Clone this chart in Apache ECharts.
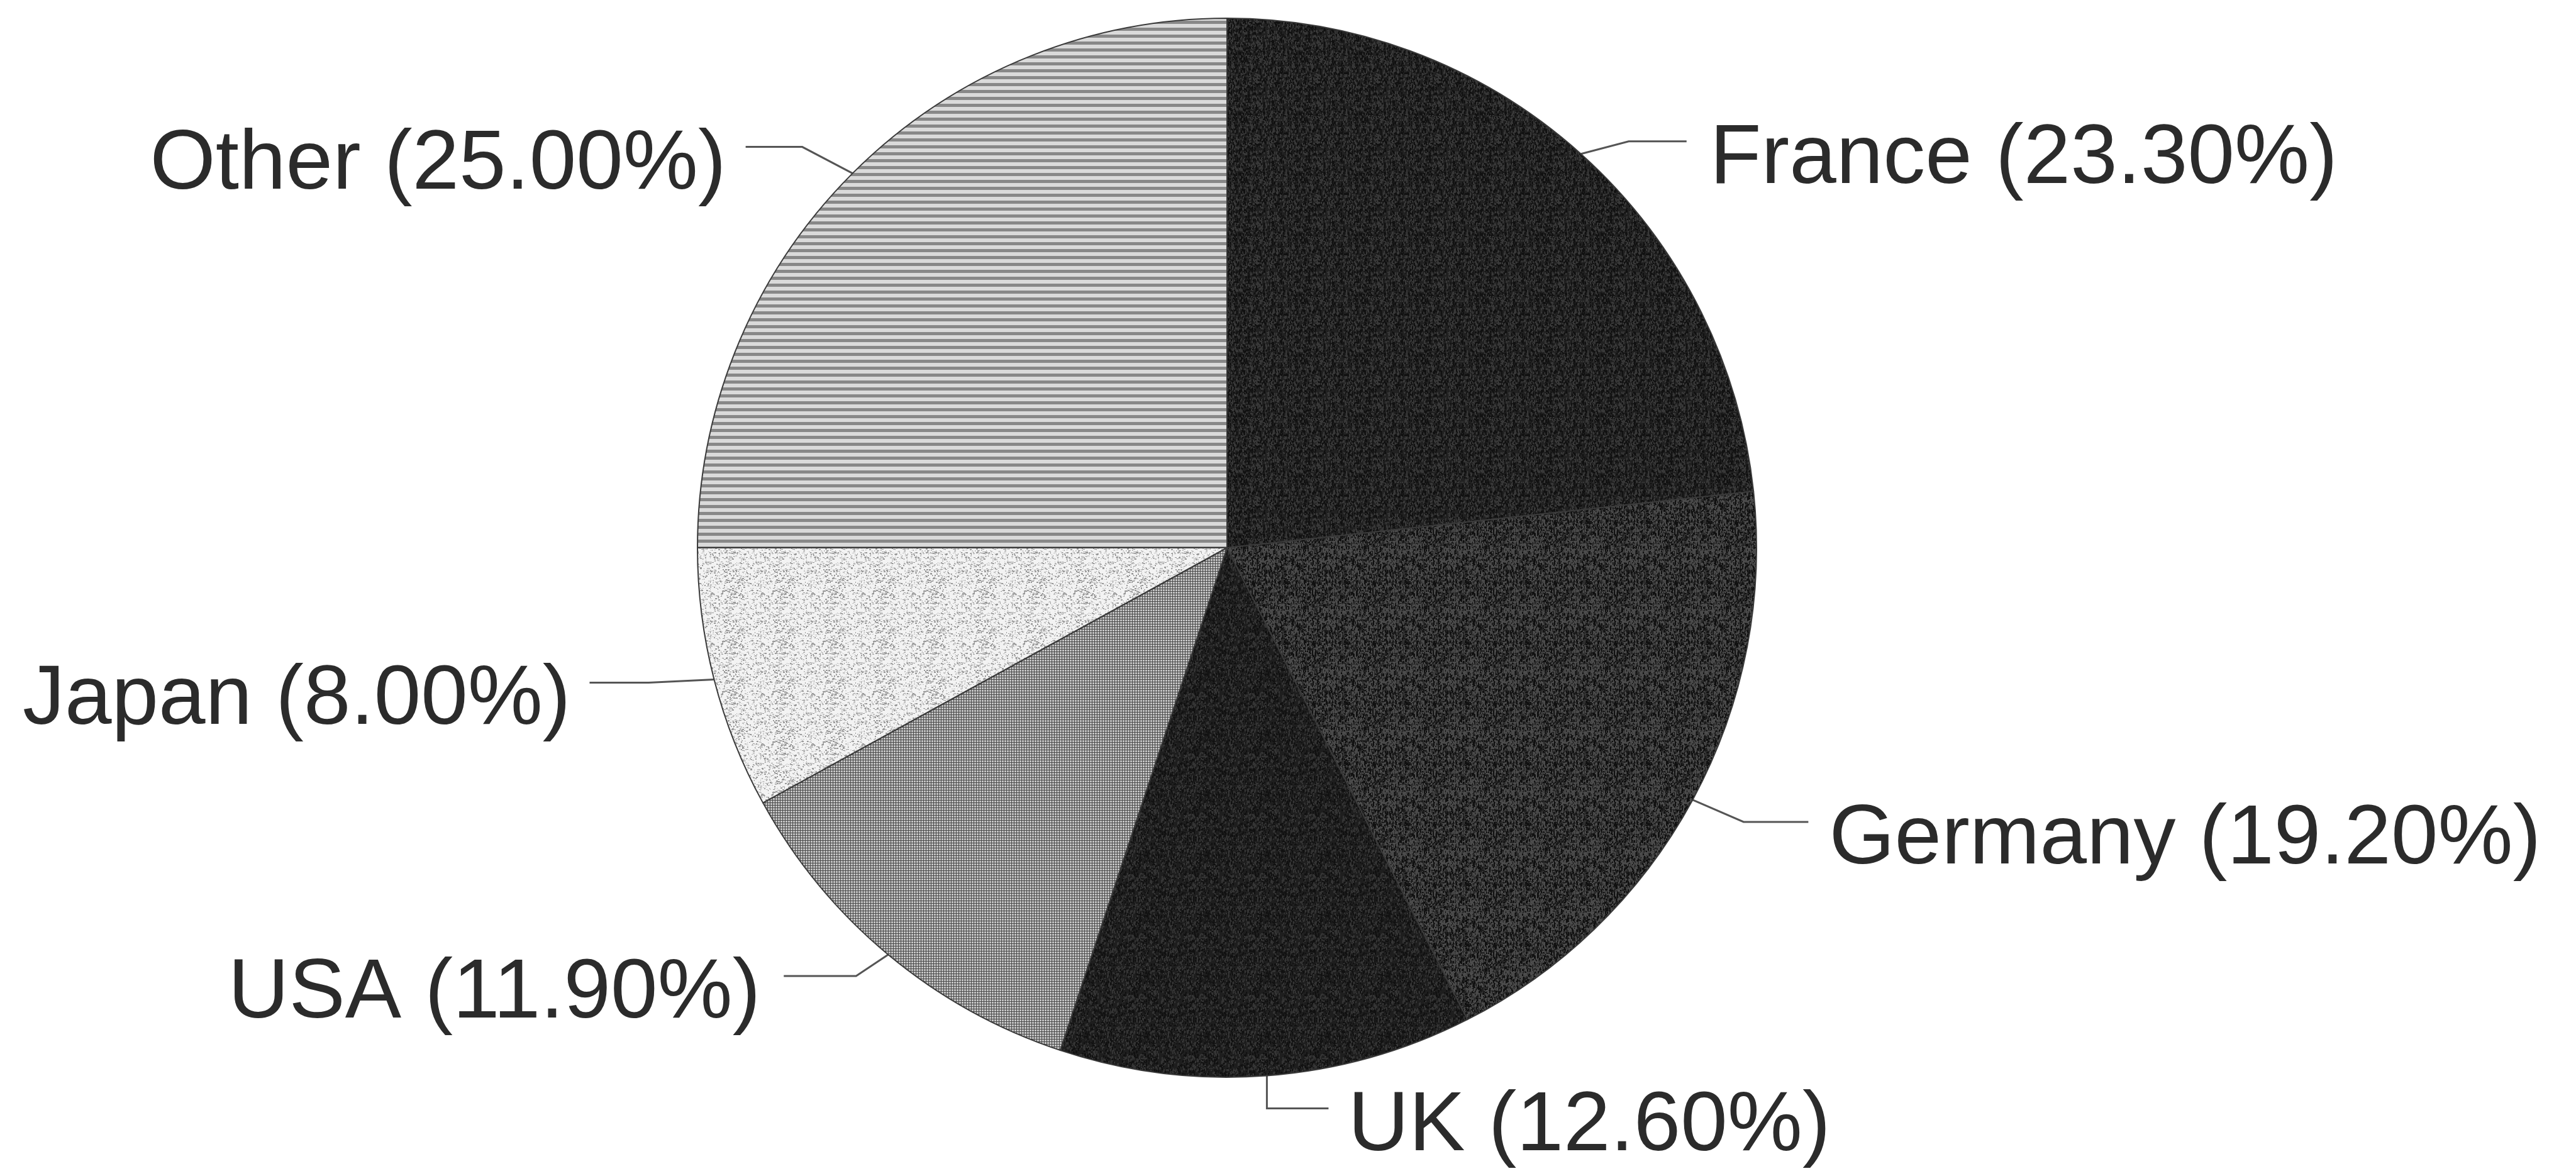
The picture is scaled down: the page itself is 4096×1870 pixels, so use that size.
<!DOCTYPE html>
<html>
<head>
<meta charset="utf-8">
<script src="https://cdn.jsdelivr.net/npm/echarts@6/dist/echarts.min.js"></script>
<style>
  html, body { margin: 0; padding: 0; background: #fff; }
  #chart { width: 4096px; height: 1870px; }
</style>
</head>
<body>
<div id="chart"></div>
<script>
var countries = ["France", "Germany", "UK", "USA", "Japan", "Other"];
var shares = [23.3, 19.2, 12.6, 11.9, 8.0, 25.0];

// leader line shape per label: knee offset from slice edge, then horizontal tail
var kneeOffsets = [[76, -20], [81, 35], [0, 52], [-51, 34], [-104, 5], [-80, -42]];
var tailLengths = [92, 103, 98, -115, -94, -90];
var labelGaps = [37, 33, 31, 37, 30, 31];

var cx = 1951, cy = 871, R = 842;

// simple repeatable generator for the print textures
var seed = 12345;
function rnd() {
  seed = (seed * 16807) % 2147483647;
  return seed / 2147483647;
}

function tile(w, h, draw) {
  var c = document.createElement("canvas");
  c.width = w;
  c.height = h;
  draw(c.getContext("2d"), w, h);
  return { image: c, repeat: "repeat" };
}

function darkNoise(base, light, amount, streaks) {
  return tile(96, 96, function (ctx, w, h) {
    ctx.fillStyle = base;
    ctx.fillRect(0, 0, w, h);
    for (var i = 0; i < amount; i++) {
      ctx.fillStyle = rnd() < 0.5 ? light : "#111";
      ctx.fillRect(Math.floor(rnd() * w), Math.floor(rnd() * h), 2, 2 + Math.floor(rnd() * 3));
    }
    if (streaks) {
      ctx.fillStyle = "rgba(90,90,90,0.35)";
      for (var x = 0; x < w; x += 6 + Math.floor(rnd() * 6)) {
        ctx.fillRect(x, 0, 1, h);
      }
    }
  });
}

var fills = [
  darkNoise("#212121", "#383838", 1400, false),
  darkNoise("#2c2c2c", "#4a4a4a", 2200, true),
  darkNoise("#1e1e1e", "#343434", 1200, false),
  tile(4, 4, function (ctx, w, h) {
    ctx.fillStyle = "#c4c4c4";
    ctx.fillRect(0, 0, w, h);
    ctx.fillStyle = "#4a4a4a";
    ctx.fillRect(0, 0, w, 1);
    ctx.fillRect(0, 0, 1, h);
  }),
  tile(80, 80, function (ctx, w, h) {
    ctx.fillStyle = "#f3f3f3";
    ctx.fillRect(0, 0, w, h);
    for (var i = 0; i < 700; i++) {
      ctx.fillStyle = rnd() < 0.5 ? "#9a9a9a" : "#c4c4c4";
      ctx.fillRect(Math.floor(rnd() * w), Math.floor(rnd() * h), 1 + Math.floor(rnd() * 3), 1 + Math.floor(rnd() * 2));
    }
  }),
  tile(8, 11, function (ctx, w, h) {
    ctx.fillStyle = "#dadada";
    ctx.fillRect(0, 0, w, h);
    ctx.fillStyle = "#888";
    ctx.fillRect(0, 0, w, 5);
  })
];

var total = shares.reduce(function (a, b) { return a + b; }, 0);

var pieData = countries.map(function (name, i) {
  return { name: name, value: shares[i], itemStyle: { color: fills[i] } };
});

var myChart = echarts.init(document.getElementById("chart"));

var option = {
  backgroundColor: "#fff",
  animation: false,
  series: [
    {
      type: "pie",
      center: [cx, cy],
      radius: R,
      startAngle: 90,
      clockwise: true,
      avoidLabelOverlap: false,
      data: pieData,
      itemStyle: {
        borderColor: "#3a3a3a",
        borderWidth: 2
      },
      label: {
        show: true,
        position: "outside",
        color: "#2b2b2b",
        fontSize: 134,
        fontFamily: "Liberation Sans, Arial, sans-serif",
        formatter: function (p) {
          return p.name + " (" + p.value.toFixed(2) + "%)";
        }
      },
      labelLine: {
        show: true,
        lineStyle: { color: "#555", width: 3 }
      },
      labelLayout: function (params) {
        var i = params.dataIndex;
        var before = 0;
        for (var k = 0; k < i; k++) before += shares[k];
        var mid = ((before + shares[i] / 2) / total) * Math.PI * 2;
        var start = [cx + R * Math.sin(mid), cy - R * Math.cos(mid)];
        var knee = [start[0] + kneeOffsets[i][0], start[1] + kneeOffsets[i][1]];
        var end = [knee[0] + tailLengths[i], knee[1]];
        var dir = tailLengths[i] > 0 ? 1 : -1;
        return {
          x: end[0] + dir * labelGaps[i],
          y: end[1] + 29,
          align: dir > 0 ? "left" : "right",
          verticalAlign: "middle",
          labelLinePoints: [start, knee, end]
        };
      }
    }
  ]
};

myChart.setOption(option);
</script>
</body>
</html>
